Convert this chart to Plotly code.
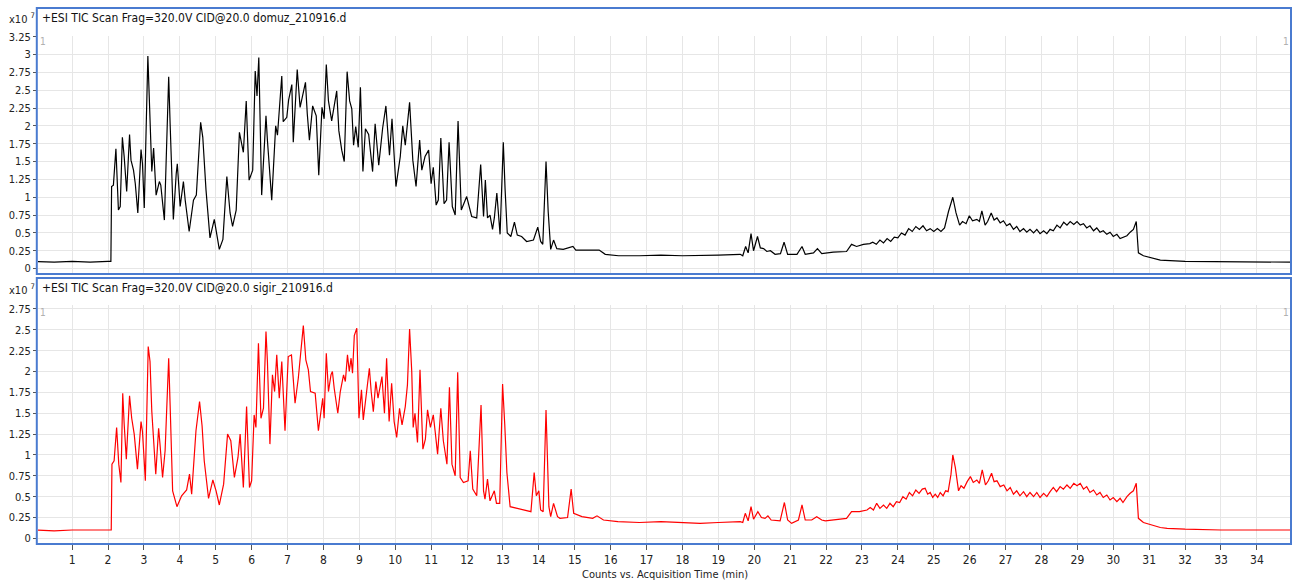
import plotly.graph_objects as go

# ---- TIC data (retention time in min, counts in units of 1e7) ----
domuz_time = [
    0.00, 0.50, 1.00, 1.50, 2.00, 2.08, 2.10, 2.15, 2.22, 2.29,
    2.34, 2.40, 2.45, 2.52, 2.60, 2.64, 2.71, 2.76, 2.83, 2.92,
    2.96, 3.01, 3.11, 3.16, 3.22, 3.27, 3.34, 3.43, 3.47, 3.57,
    3.69, 3.73, 3.82, 3.90, 3.93, 4.01, 4.10, 4.15, 4.26, 4.38,
    4.46, 4.58, 4.64, 4.73, 4.84, 4.96, 5.10, 5.20, 5.31, 5.40,
    5.47, 5.57, 5.66, 5.77, 5.85, 5.93, 6.03, 6.10, 6.15, 6.20,
    6.28, 6.40, 6.44, 6.56, 6.67, 6.72, 6.84, 6.88, 6.98, 7.03,
    7.12, 7.16, 7.27, 7.35, 7.43, 7.50, 7.55, 7.61, 7.70, 7.80,
    7.87, 7.96, 8.02, 8.08, 8.14, 8.23, 8.30, 8.37, 8.43, 8.51,
    8.58, 8.66, 8.73, 8.79, 8.84, 8.90, 8.97, 9.03, 9.10, 9.17,
    9.26, 9.37, 9.44, 9.54, 9.65, 9.74, 9.84, 9.91, 10.02, 10.14,
    10.21, 10.28, 10.40, 10.49, 10.58, 10.68, 10.74, 10.83, 10.93, 11.00,
    11.06, 11.14, 11.20, 11.27, 11.36, 11.43, 11.50, 11.59, 11.67, 11.75,
    11.84, 11.99, 12.13, 12.27, 12.38, 12.46, 12.51, 12.57, 12.64, 12.71,
    12.76, 12.83, 12.92, 13.01, 13.06, 13.12, 13.22, 13.32, 13.40, 13.52,
    13.66, 13.85, 13.97, 14.05, 14.11, 14.20, 14.26, 14.33, 14.41, 14.50,
    14.68, 14.95, 15.03, 15.34, 15.68, 15.85, 16.22, 16.80, 17.40, 18.00,
    18.50, 19.00, 19.61, 19.68, 19.76, 19.83, 19.91, 19.98, 20.09, 20.17,
    20.26, 20.35, 20.45, 20.58, 20.73, 20.83, 20.93, 21.19, 21.33, 21.42,
    21.65, 21.76, 21.88, 22.20, 22.57, 22.71, 22.85, 23.04, 23.22, 23.30,
    23.40, 23.50, 23.60, 23.70, 23.80, 23.90, 24.00, 24.10, 24.20, 24.30,
    24.40, 24.50, 24.60, 24.70, 24.80, 24.90, 25.00, 25.10, 25.20, 25.30,
    25.41, 25.53, 25.62, 25.72, 25.80, 25.90, 25.99, 26.08, 26.20, 26.27,
    26.34, 26.43, 26.50, 26.60, 26.68, 26.76, 26.85, 26.94, 27.03, 27.12,
    27.22, 27.31, 27.40, 27.50, 27.59, 27.68, 27.78, 27.87, 27.96, 28.06,
    28.15, 28.24, 28.33, 28.43, 28.52, 28.62, 28.71, 28.80, 28.90, 28.99,
    29.08, 29.17, 29.26, 29.35, 29.45, 29.54, 29.63, 29.72, 29.82, 29.91,
    30.00, 30.10, 30.19, 30.29, 30.38, 30.47, 30.56, 30.64, 30.70, 30.84,
    31.31, 32.00, 33.00, 34.00, 35.00,
]
domuz_tic = [
    0.10, 0.09, 0.10, 0.09, 0.10, 0.10, 1.15, 1.17, 1.68, 0.82,
    0.87, 1.84, 1.57, 1.08, 1.88, 1.52, 1.38, 1.19, 0.78, 1.67,
    1.47, 0.85, 2.98, 2.31, 1.36, 1.69, 1.03, 1.22, 1.17, 0.68,
    2.69, 2.03, 0.69, 1.33, 1.47, 0.87, 1.22, 0.96, 0.52, 0.96,
    1.03, 2.05, 1.84, 1.10, 0.43, 0.69, 0.27, 0.41, 1.29, 0.78,
    0.59, 0.82, 1.91, 1.63, 2.35, 1.24, 1.38, 2.77, 2.42, 2.96,
    1.03, 2.14, 1.80, 0.96, 2.00, 1.87, 2.70, 2.06, 2.12, 2.36,
    2.58, 1.77, 2.79, 2.26, 2.44, 2.61, 2.17, 1.80, 2.28, 2.14,
    1.31, 2.26, 2.10, 2.86, 2.35, 2.07, 2.28, 2.49, 1.93, 1.66,
    1.50, 2.76, 2.35, 2.24, 1.73, 1.99, 1.70, 2.54, 1.36, 1.96,
    1.88, 1.36, 2.03, 1.45, 1.97, 2.28, 1.59, 2.10, 1.15, 1.57,
    2.00, 1.73, 2.33, 1.52, 1.15, 1.80, 1.38, 1.57, 1.66, 1.19,
    1.42, 0.89, 0.96, 1.83, 0.91, 0.96, 1.77, 0.87, 0.75, 2.07,
    0.82, 1.01, 0.73, 0.71, 1.46, 0.73, 1.24, 0.71, 0.75, 0.55,
    0.71, 1.06, 0.48, 1.77, 1.11, 0.50, 0.45, 0.65, 0.47, 0.45,
    0.38, 0.40, 0.58, 0.38, 0.34, 1.50, 0.80, 0.27, 0.40, 0.28,
    0.27, 0.31, 0.26, 0.26, 0.26, 0.20, 0.18, 0.18, 0.19, 0.18,
    0.18, 0.19, 0.20, 0.18, 0.31, 0.22, 0.49, 0.25, 0.45, 0.29,
    0.28, 0.24, 0.25, 0.20, 0.21, 0.37, 0.20, 0.20, 0.31, 0.20,
    0.22, 0.28, 0.21, 0.23, 0.24, 0.34, 0.31, 0.34, 0.35, 0.37,
    0.34, 0.40, 0.36, 0.42, 0.38, 0.44, 0.43, 0.50, 0.47, 0.56,
    0.52, 0.59, 0.55, 0.60, 0.53, 0.56, 0.52, 0.56, 0.52, 0.57,
    0.80, 1.00, 0.78, 0.61, 0.66, 0.63, 0.74, 0.67, 0.69, 0.66,
    0.81, 0.61, 0.66, 0.78, 0.68, 0.71, 0.64, 0.67, 0.60, 0.63,
    0.55, 0.59, 0.52, 0.56, 0.51, 0.55, 0.50, 0.55, 0.49, 0.53,
    0.49, 0.55, 0.53, 0.61, 0.57, 0.65, 0.61, 0.66, 0.62, 0.66,
    0.61, 0.63, 0.57, 0.60, 0.53, 0.57, 0.51, 0.53, 0.48, 0.51,
    0.45, 0.48, 0.42, 0.44, 0.46, 0.51, 0.55, 0.66, 0.22, 0.18,
    0.12, 0.10, 0.10, 0.09, 0.09,
]

sigir_time = [
    0.00, 0.50, 1.00, 1.50, 2.00, 2.09, 2.11, 2.17, 2.24, 2.30,
    2.36, 2.41, 2.45, 2.51, 2.60, 2.66, 2.73, 2.82, 2.92, 2.96,
    3.04, 3.12, 3.17, 3.22, 3.33, 3.41, 3.45, 3.52, 3.59, 3.69,
    3.73, 3.80, 3.92, 4.05, 4.19, 4.27, 4.33, 4.45, 4.55, 4.62,
    4.68, 4.80, 4.92, 5.01, 5.10, 5.22, 5.33, 5.42, 5.52, 5.62,
    5.68, 5.77, 5.86, 5.94, 6.00, 6.07, 6.12, 6.19, 6.26, 6.33,
    6.40, 6.44, 6.51, 6.58, 6.64, 6.70, 6.77, 6.84, 6.93, 7.02,
    7.11, 7.21, 7.30, 7.40, 7.44, 7.51, 7.58, 7.64, 7.77, 7.86,
    7.98, 8.02, 8.08, 8.14, 8.21, 8.25, 8.30, 8.40, 8.47, 8.56,
    8.61, 8.67, 8.72, 8.77, 8.81, 8.86, 8.93, 8.99, 9.06, 9.11,
    9.21, 9.28, 9.33, 9.39, 9.46, 9.52, 9.63, 9.70, 9.76, 9.83,
    9.90, 9.97, 10.04, 10.12, 10.19, 10.28, 10.34, 10.40, 10.46, 10.50,
    10.55, 10.62, 10.69, 10.77, 10.84, 10.90, 10.98, 11.06, 11.11, 11.18,
    11.27, 11.34, 11.44, 11.51, 11.58, 11.67, 11.74, 11.81, 11.90, 12.03,
    12.09, 12.16, 12.27, 12.39, 12.46, 12.50, 12.57, 12.64, 12.76, 12.82,
    12.91, 12.99, 13.05, 13.11, 13.20, 13.39, 13.57, 13.78, 13.87, 13.93,
    14.00, 14.05, 14.12, 14.20, 14.28, 14.33, 14.41, 14.52, 14.59, 14.80,
    14.90, 14.97, 15.20, 15.50, 15.62, 15.80, 16.20, 16.80, 17.40, 18.00,
    18.49, 19.00, 19.61, 19.68, 19.75, 19.83, 19.91, 19.98, 20.10, 20.20,
    20.30, 20.38, 20.47, 20.72, 20.84, 20.93, 21.04, 21.23, 21.33, 21.42,
    21.60, 21.74, 21.88, 21.98, 22.30, 22.57, 22.71, 22.93, 23.14, 23.23,
    23.32, 23.41, 23.50, 23.60, 23.69, 23.78, 23.87, 23.96, 24.05, 24.14,
    24.23, 24.32, 24.41, 24.50, 24.59, 24.68, 24.76, 24.83, 24.90, 24.97,
    25.04, 25.11, 25.18, 25.26, 25.33, 25.40, 25.48, 25.53, 25.60, 25.69,
    25.76, 25.84, 25.93, 26.02, 26.10, 26.20, 26.27, 26.35, 26.44, 26.52,
    26.61, 26.68, 26.76, 26.85, 26.95, 27.04, 27.13, 27.22, 27.31, 27.40,
    27.50, 27.59, 27.68, 27.78, 27.87, 27.96, 28.06, 28.15, 28.24, 28.33,
    28.42, 28.52, 28.61, 28.71, 28.80, 28.90, 28.99, 29.08, 29.17, 29.26,
    29.35, 29.45, 29.54, 29.63, 29.72, 29.82, 29.91, 30.00, 30.10, 30.19,
    30.27, 30.38, 30.47, 30.56, 30.64, 30.70, 30.84, 31.31, 31.50, 32.00,
    33.00, 34.00, 35.00,
]
sigir_tic = [
    0.10, 0.09, 0.10, 0.10, 0.10, 0.10, 0.89, 0.93, 1.33, 0.89,
    0.67, 1.74, 1.37, 0.95, 1.71, 1.44, 1.25, 0.83, 1.40, 1.28,
    0.69, 2.30, 2.12, 1.52, 0.77, 1.32, 1.12, 0.73, 1.05, 2.16,
    1.60, 0.57, 0.38, 0.51, 0.58, 0.77, 0.53, 1.29, 1.64, 1.35,
    0.93, 0.48, 0.70, 0.57, 0.40, 0.65, 1.25, 1.17, 0.73, 0.97,
    1.25, 0.61, 1.58, 0.61, 0.69, 1.48, 1.33, 2.34, 1.44, 1.56,
    2.48, 2.12, 1.13, 1.96, 1.76, 2.20, 1.68, 2.12, 1.29, 2.18,
    2.20, 1.62, 1.92, 2.43, 2.55, 2.14, 2.02, 1.76, 1.74, 1.29,
    1.68, 1.44, 2.22, 1.76, 1.96, 2.00, 1.80, 1.50, 1.76, 1.96,
    1.88, 2.20, 2.00, 2.16, 1.98, 2.43, 2.52, 1.44, 1.78, 1.42,
    1.76, 2.04, 1.76, 1.52, 1.88, 1.68, 1.94, 1.50, 2.16, 1.40,
    1.86, 1.40, 1.21, 1.56, 1.36, 1.58, 1.84, 2.51, 2.00, 1.33,
    1.50, 1.15, 2.02, 1.07, 1.19, 1.54, 1.33, 1.48, 1.29, 1.01,
    1.56, 1.17, 0.89, 1.81, 0.89, 0.75, 1.99, 0.73, 0.67, 0.69,
    1.05, 0.59, 0.51, 1.60, 0.57, 0.47, 0.71, 0.45, 0.57, 0.42,
    0.42, 1.85, 1.37, 0.79, 0.38, 0.36, 0.34, 0.32, 0.79, 0.51,
    0.57, 0.34, 0.32, 1.54, 0.38, 0.26, 0.42, 0.26, 0.24, 0.25,
    0.59, 0.30, 0.26, 0.24, 0.27, 0.22, 0.20, 0.19, 0.20, 0.19,
    0.18, 0.19, 0.20, 0.19, 0.30, 0.21, 0.38, 0.23, 0.32, 0.25,
    0.24, 0.27, 0.22, 0.21, 0.43, 0.22, 0.18, 0.22, 0.40, 0.22,
    0.22, 0.26, 0.22, 0.21, 0.23, 0.24, 0.32, 0.32, 0.34, 0.37,
    0.34, 0.42, 0.36, 0.40, 0.36, 0.42, 0.38, 0.44, 0.43, 0.50,
    0.47, 0.55, 0.51, 0.58, 0.54, 0.59, 0.60, 0.53, 0.55, 0.49,
    0.53, 0.49, 0.55, 0.51, 0.57, 0.56, 0.77, 1.00, 0.85, 0.57,
    0.63, 0.60, 0.68, 0.74, 0.67, 0.70, 0.66, 0.82, 0.64, 0.69,
    0.78, 0.68, 0.69, 0.62, 0.64, 0.57, 0.61, 0.53, 0.57, 0.51,
    0.56, 0.50, 0.55, 0.50, 0.55, 0.49, 0.54, 0.50, 0.56, 0.61,
    0.56, 0.62, 0.59, 0.64, 0.60, 0.66, 0.63, 0.66, 0.59, 0.62,
    0.55, 0.58, 0.52, 0.55, 0.49, 0.52, 0.46, 0.49, 0.44, 0.48,
    0.43, 0.50, 0.54, 0.57, 0.66, 0.24, 0.19, 0.13, 0.12, 0.11,
    0.10, 0.10, 0.10,
]

assert len(domuz_time) == len(domuz_tic)
assert len(sigir_time) == len(sigir_tic)

# axis tick labels
x_tick_vals = list(range(1, 35))
x_tick_text = [str(v) for v in x_tick_vals]
y_top_vals = [0, 0.25, 0.5, 0.75, 1, 1.25, 1.5, 1.75, 2, 2.25, 2.5, 2.75, 3, 3.25]
y_top_text = ["0", "0.25", "0.5", "0.75", "1", "1.25", "1.5", "1.75",
              "2", "2.25", "2.5", "2.75", "3", "3.25"]
y_bot_vals = y_top_vals[:-2]
y_bot_text = y_top_text[:-2]

titles = ["+ESI TIC Scan Frag=320.0V CID@20.0 domuz_210916.d",
          "+ESI TIC Scan Frag=320.0V CID@20.0 sigir_210916.d"]

# ---- styling ----
W, H = 1294, 586
ML, MR, MT, MB = 38, 3, 0, 40
PH = H - MT - MB          # plot-area height in px
PW = W - ML - MR


def py(p):
    """pixel row -> paper y"""
    return (PH - p) / PH


def px(p):
    """pixel column -> paper x"""
    return (p - ML) / PW


NARROW = "Liberation Sans Narrow, Arial Narrow, DejaVu Sans Condensed, sans-serif"
GRID = "#e6e6e6"
AX = "#555555"
BLUE = "#4a7bd0"

fig = go.Figure()
fig.add_trace(go.Scatter(x=domuz_time, y=domuz_tic, mode="lines",
                         line=dict(color="#000000", width=1.2),
                         xaxis="x", yaxis="y", hoverinfo="skip",
                         showlegend=False))
fig.add_trace(go.Scatter(x=sigir_time, y=sigir_tic, mode="lines",
                         line=dict(color="#ff0000", width=1.2),
                         xaxis="x2", yaxis="y2", hoverinfo="skip",
                         showlegend=False))

xrange = [0.05, 34.95]
common_x = dict(range=xrange, tickvals=x_tick_vals, ticktext=x_tick_text,
                showgrid=True, gridcolor=GRID, gridwidth=1, zeroline=False)
common_y = dict(showgrid=True, gridcolor=GRID, gridwidth=1, zeroline=False,
                showline=False, ticks="outside", ticklen=4, tickcolor=AX,
                tickfont=dict(family=NARROW, size=11, color="#222"))

fig.update_layout(
    width=W, height=H,
    margin=dict(l=ML, r=MR, t=MT, b=MB),
    paper_bgcolor="white", plot_bgcolor="white",
    xaxis=dict(domain=[0, 1], anchor="y", showticklabels=False, ticks="",
               showline=False, **common_x),
    yaxis=dict(domain=[py(271), py(31)], range=[-0.069, 3.264],
               tickvals=y_top_vals, ticktext=y_top_text, anchor="x", **common_y),
    xaxis2=dict(domain=[0, 1], anchor="y2", matches="x", showline=True,
                linecolor=AX, linewidth=2, ticks="outside", ticklen=5,
                tickcolor=AX, tickwidth=1,
                tickfont=dict(family=NARROW, size=12, color="#222"), **common_x),
    yaxis2=dict(domain=[py(543), py(303)], range=[-0.056, 2.795],
                tickvals=y_bot_vals, ticktext=y_bot_text, anchor="x2", **common_y),
)

# panel frames
for top, bot in [(3, 271.5), (275.5, 544)]:
    fig.add_shape(type="rect", xref="paper", yref="paper",
                  x0=px(36.8), x1=px(1291), y0=py(bot), y1=py(top),
                  line=dict(color=BLUE, width=2), fillcolor="rgba(0,0,0,0)",
                  layer="above")

# panel titles and exponent labels
for title, yc, yexp in [(titles[0], 13, 14), (titles[1], 286, 287)]:
    fig.add_annotation(x=px(40), y=py(yc), xref="paper", yref="paper",
                       text=title, showarrow=False, xanchor="left",
                       yanchor="middle",
                       font=dict(family=NARROW, size=12, color="#111"))
    fig.add_annotation(x=px(7), y=py(yexp), xref="paper", yref="paper",
                       text="x10 <sup>7</sup>", showarrow=False, xanchor="left",
                       yanchor="middle",
                       font=dict(family=NARROW, size=11, color="#222"))

# small marker glyphs at the panel corners
for yc in (37, 310):
    for xc in (43, 1286):
        fig.add_annotation(x=px(xc), y=py(yc), xref="paper", yref="paper",
                           text="1", showarrow=False, xanchor="center",
                           yanchor="middle",
                           font=dict(family=NARROW, size=10, color="#b0b0b0"))

# x-axis title
fig.add_annotation(x=0.5, y=py(575), xref="paper", yref="paper",
                   text="Counts vs. Acquisition Time (min)", showarrow=False,
                   xanchor="center", yanchor="middle",
                   font=dict(family=NARROW, size=11, color="#222"))

fig.write_html("out.html")
